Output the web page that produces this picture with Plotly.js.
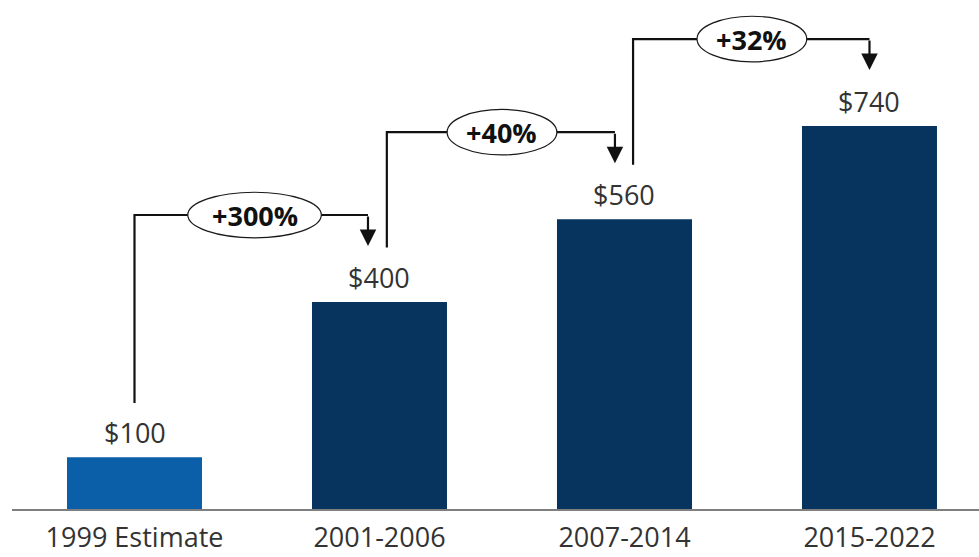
<!DOCTYPE html>
<html>
<head>
<meta charset="utf-8">
<script src="https://cdn.plot.ly/plotly-3.0.1.min.js"></script>
<style>
html,body{margin:0;padding:0;background:#fff;}
#chart{width:979px;height:557px;}
</style>
</head>
<body>
<div id="chart"></div>
<script>
// ---- data ----
var categories = ['1999 Estimate', '2001-2006', '2007-2014', '2015-2022'];
var values = [100, 400, 560, 740];
var valueLabels = ['$100', '$400', '$560', '$740'];
var changeLabels = ['+300%', '+40%', '+32%'];

// ---- styling ----
var barColors = ['#0b5fa8', '#06345f', '#06345f', '#06345f'];
var textColor = '#333333';
var FONT = 'Open Sans, Liberation Sans, sans-serif';
var leftOff = [0, 0.03, 0.035];
var rightOff = [-0.047, -0.039, 0];
var ellCenterOff = [0.49, 0.5, 0.52];

var xIdx = categories.map(function (c, i) { return i; });

var shapes = [];
var annotations = [];

// value labels
values.forEach(function (v, i) {
  annotations.push({
    x: i, y: v, xref: 'x', yref: 'y', text: valueLabels[i], showarrow: false,
    yanchor: 'bottom', yshift: 4,
    font: {family: FONT, size: 27, color: textColor}
  });
});

// connectors
changeLabels.forEach(function (lab, i) {
  var lx = i + leftOff[i];
  var rx = i + 1 + rightOff[i];
  var startY = values[i] + 105;
  var levelY = values[i + 1] + 168;
  var tipY = values[i + 1] + 108;
  var cx = i + ellCenterOff[i];
  var w = 0.097 * lab.length + 0.06;
  var h = 88;
  shapes.push({
    type: 'path', xref: 'x', yref: 'y',
    path: 'M' + lx + ',' + startY + ' L' + lx + ',' + levelY + ' L' + rx + ',' + levelY,
    line: {color: '#111', width: 2.2}
  });
  shapes.push({
    type: 'circle', xref: 'x', yref: 'y',
    x0: cx - w / 2, x1: cx + w / 2, y0: levelY - h / 2, y1: levelY + h / 2,
    fillcolor: '#fff', line: {color: '#1a1a1a', width: 1.2}
  });
  annotations.push({
    x: cx, y: levelY, xref: 'x', yref: 'y', text: '<b>' + lab + '</b>', showarrow: false,
    font: {family: FONT, size: 27, color: '#111'}
  });
  annotations.push({
    x: rx, y: tipY, xref: 'x', yref: 'y', ax: rx, ay: levelY, axref: 'x', ayref: 'y',
    text: '', showarrow: true, arrowhead: 2, arrowsize: 1.5, arrowwidth: 2.2, arrowcolor: '#111',
    standoff: 0
  });
});

var trace = {
  type: 'bar', x: xIdx, y: values,
  marker: {color: barColors, line: {width: 0}},
  hoverinfo: 'skip'
};

var layout = {
  width: 979, height: 557,
  margin: {l: 12, r: 0, t: 0, b: 48, pad: 0},
  paper_bgcolor: '#fff', plot_bgcolor: '#fff',
  bargap: 0.449,
  showlegend: false,
  xaxis: {
    range: [-0.5, 3.447], tickvals: xIdx, ticktext: categories,
    showgrid: false, zeroline: false, showline: true, linecolor: '#7f7f7f', linewidth: 2,
    ticks: '', ticklabelstandoff: 4,
    tickfont: {family: FONT, size: 27, color: textColor}, fixedrange: true
  },
  yaxis: {
    range: [0, 983.4], visible: false, showgrid: false, zeroline: false, fixedrange: true
  },
  shapes: shapes,
  annotations: annotations
};

Plotly.newPlot('chart', [trace], layout, {displayModeBar: false, staticPlot: true});
</script>
</body>
</html>
